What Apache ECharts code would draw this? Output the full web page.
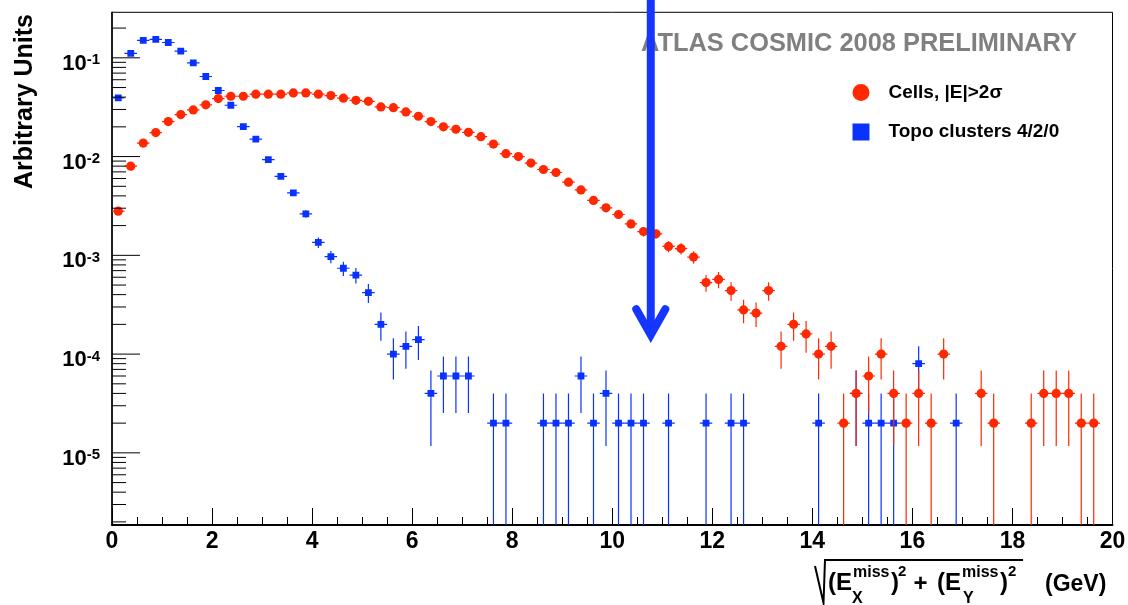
<!DOCTYPE html>
<html><head><meta charset="utf-8">
<script src="https://cdn.jsdelivr.net/npm/echarts@6/dist/echarts.min.js"></script>
<style>html,body{margin:0;padding:0;background:#fff}#c{width:1128px;height:605px}</style>
</head><body><div id="c"></div>
<script>
// ---- data ----
const BIN_CENTERS = [0.125,0.375,0.625,0.875,1.125,1.375,1.625,1.875,2.125,2.375,2.625,2.875,3.125,3.375,3.625,3.875,
  4.125,4.375,4.625,4.875,5.125,5.375,5.625,5.875,6.125,6.375,6.625,6.875,7.125,7.375,7.625,7.875,
  8.125,8.375,8.625,8.875,9.125,9.375,9.625,9.875,10.125,10.375,10.625,10.875,11.125,11.375,11.625,11.875,
  12.125,12.375,12.625,12.875,13.125,13.375,13.625,13.875,14.125,14.375,14.625,14.875,15.125,15.375,15.625,15.875,
  16.125,16.375,16.625,16.875,17.125,17.375,17.625,17.875,18.125,18.375,18.625,18.875,19.125,19.375,19.625,19.875];
const CELLS = [0.0028,0.0080,0.0137,0.0175,0.0226,0.0266,0.0297,0.0334,0.0387,0.0408,0.0408,0.0428,0.0428,0.0428,0.0441,0.0441,
  0.0428,0.0415,0.0390,0.0371,0.0363,0.0318,0.0313,0.0283,0.0256,0.0226,0.0200,0.0189,0.0176,0.0159,0.0134,0.0107,
  0.0100,0.0086,0.0074,0.0069,0.0055,0.0046,0.0036,0.00303,0.00259,0.00208,0.00174,0.00165,0.00123,0.00117,0.00096,0.00053,
  0.00057,0.00044,0.00028,0.00026,0.00044,0.00012,0.00020,0.00016,0.00010,0.00012,0.00002,0.00004,0.00006,0.00010,0.00004,0.00002,
  0.00004,0.00002,0.00010,0,0,0.00004,0.00002,0,0,0.00002,0.00004,0.00004,0.00004,0.00002,0.00002,0];
const TOPO = [0.0393,0.111,0.150,0.154,0.143,0.117,0.0889,0.0647,0.0467,0.0331,0.0201,0.0150,0.0093,0.0063,0.0043,0.00263,
  0.00135,0.00097,0.00074,0.00063,0.00042,0.00020,0.00010,0.00012,0.00014,0.00004,0.00006,0.00006,0.00006,0,0.00002,0.00002,
  0,0,0.00002,0.00002,0.00002,0.00006,0.00002,0.00004,0.00002,0.00002,0.00002,0,0.00002,0,0,0.00002,
  0,0.00002,0.00002,0,0,0,0,0,0.00002,0,0,0.00004,0.00002,0.00002,0.00002,0,
  0.00008,0,0,0.00002,0,0,0,0,0,0,0,0,0,0,0,0];
const SERIES_NAMES = ['Cells, |E|>2σ', 'Topo clusters 4/2/0'];
const ENTRY_WEIGHT = 2e-5;      // weight of one entry (Poisson error unit)
const BIN_HALF_WIDTH = 0.125;
const X_MIN = 0, X_MAX = 20, X_STEP = 2;
const Y_MIN = 1.86e-6, Y_MAX = 0.289;
const Y_MAJOR_TICKS = [1e-5, 1e-4, 1e-3, 1e-2, 1e-1];
const Y_MINOR_TICKS = [2e-6,3e-6,4e-6,5e-6,6e-6,7e-6,8e-6,9e-6,
  2e-5,3e-5,4e-5,5e-5,6e-5,7e-5,8e-5,9e-5, 2e-4,3e-4,4e-4,5e-4,6e-4,7e-4,8e-4,9e-4,
  2e-3,3e-3,4e-3,5e-3,6e-3,7e-3,8e-3,9e-3, 2e-2,3e-2,4e-2,5e-2,6e-2,7e-2,8e-2,9e-2, 2e-1];
const ARROW_X = 10.77, ARROW_TIP = 1.3e-4;
const TITLE = 'ATLAS COSMIC 2008 PRELIMINARY';
const Y_TITLE = 'Arbitrary Units';

// ---- styles ----
const FONT = '"Liberation Sans", Arial, Helvetica, sans-serif';
const RED = '#ff2800', BLUE = '#0a32ff', ARROW_BLUE = '#1536ff';

const chart = echarts.init(document.getElementById('c'), null, {renderer: 'canvas'});

function histSeries(name, values, color, shape) {
  const data = [];
  values.forEach((v, i) => { if (v > 0) data.push([BIN_CENTERS[i], v]); });
  return {
    type: 'custom', name, data, encode: {x: 0, y: 1}, clip: true,
    itemStyle: {color},
    renderItem(params, api) {
      const x = api.value(0), v = api.value(1);
      const err = Math.sqrt(v * ENTRY_WEIGHT);
      const cs = params.coordSys;
      const c = api.coord([x, v]);
      const l = api.coord([x - BIN_HALF_WIDTH, v]);
      const r = api.coord([x + BIN_HALF_WIDTH, v]);
      const top = api.coord([x, v + err])[1];
      const low = (v - err) > Y_MIN * 1.0001 ? api.coord([x, v - err])[1] : cs.y + cs.height;
      const ls = {stroke: color, lineWidth: 1.2};
      const children = [
        {type: 'line', shape: {x1: l[0], y1: c[1], x2: r[0], y2: c[1]}, style: ls},
        {type: 'line', shape: {x1: c[0], y1: top, x2: c[0], y2: low}, style: ls}
      ];
      if (shape === 'circle') children.push({type: 'circle', shape: {cx: c[0], cy: c[1], r: 4.6}, style: {fill: color}});
      else children.push({type: 'rect', shape: {x: c[0] - 3.4, y: c[1] - 3.4, width: 6.8, height: 6.8}, style: {fill: color}});
      return {type: 'group', children};
    }
  };
}

const tickData = Y_MAJOR_TICKS.map(v => [X_MIN, v, 1]).concat(Y_MINOR_TICKS.map(v => [X_MIN, v, 0]));

const supY = (t, x, y, size) => ({type: 'text', x, y, z: 1, style: {text: t, font: `bold ${size}px ${FONT}`, fill: '#000', verticalAlign: 'middle', textAlign: 'left'}});

const option = {
  backgroundColor: '#fff',
  animation: false,
  grid: {left: 112, right: 15.5, top: 12.3, bottom: 80, show: true, borderColor: '#000', borderWidth: 1, containLabel: false, outerBoundsMode: 'none'},
  legend: {
    orient: 'vertical', left: 847.5, top: 77.5, itemWidth: 17, itemHeight: 17, itemGap: 19.5, selectedMode: false,
    data: [{name: SERIES_NAMES[0], icon: 'circle', itemStyle: {color: RED}}, {name: SERIES_NAMES[1], icon: 'rect', itemStyle: {color: BLUE}}],
    textStyle: {fontFamily: FONT, fontSize: 19, fontWeight: 'bold', color: '#000', lineHeight: 20, padding: [0, 0, 0, 14]}
  },
  xAxis: {
    type: 'value', min: X_MIN, max: X_MAX, interval: X_STEP,
    axisLine: {show: true, onZero: false, lineStyle: {color: '#000', width: 2}},
    axisTick: {show: true, inside: true, length: 17, lineStyle: {color: '#000', width: 1}},
    minorTick: {show: true, splitNumber: 4, length: 8, lineStyle: {color: '#000', width: 1}},
    splitLine: {show: false}, minorSplitLine: {show: false},
    axisLabel: {fontFamily: FONT, fontSize: 23, fontWeight: 'bold', color: '#000', margin: 5}
  },
  yAxis: {
    type: 'log', logBase: 10, min: Y_MIN, max: Y_MAX,
    axisLine: {show: true, lineStyle: {color: '#000', width: 1.5}},
    axisTick: {show: false}, splitLine: {show: false}, minorTick: {show: false},
    axisLabel: {
      margin: 12, showMinLabel: false, showMaxLabel: false, padding: [12, 0, 0, 0],
      formatter: v => { const e = Math.log10(v), r = Math.round(e); return Math.abs(e - r) < 1e-6 ? `{b|10}{s|${r}}` : ''; },
      rich: {
        b: {fontFamily: FONT, fontSize: 22, fontWeight: 'bold', color: '#000', lineHeight: 22, verticalAlign: 'bottom'},
        s: {fontFamily: FONT, fontSize: 15, fontWeight: 'bold', color: '#000', lineHeight: 15, verticalAlign: 'top'}
      }
    }
  },
  graphic: [
    {type: 'text', x: 641, y: 44, z: 1, style: {text: TITLE, font: `bold 25.4px ${FONT}`, fill: '#808080', verticalAlign: 'middle', textAlign: 'left'}},
    {type: 'text', x: 24.7, y: 101.5, rotation: Math.PI / 2, z: 1, style: {text: Y_TITLE, font: `bold 25px ${FONT}`, fill: '#000', verticalAlign: 'middle', textAlign: 'center'}},
    {type: 'polyline', z: 1, shape: {points: [[815, 566], [823.5, 603], [825, 560], [1023, 560]]}, style: {stroke: '#000', lineWidth: 2, fill: null}},
    supY('(E', 828, 583, 24), supY('miss', 853, 572.8, 16), supY('X', 852, 599, 16),
    supY(')', 891, 583, 24), supY('2', 898, 571.7, 15),
    supY('+', 913.5, 584, 24),
    supY('(E', 937, 583, 24), supY('miss', 962, 572.8, 16), supY('Y', 963, 599, 16),
    supY(')', 1000, 583, 24), supY('2', 1008, 571.7, 15),
    supY('(GeV)', 1045, 585, 23)
  ],
  series: [
    {
      type: 'custom', silent: true, data: tickData, encode: {x: 0, y: 1}, clip: false, z: 4,
      renderItem(params, api) {
        const p = api.coord([api.value(0), api.value(1)]);
        const len = api.value(2) ? 28 : 14;
        return {type: 'line', shape: {x1: p[0], y1: p[1], x2: p[0] + len, y2: p[1]}, style: {stroke: '#000', lineWidth: 1}};
      }
    },
    histSeries(SERIES_NAMES[1], TOPO, BLUE, 'rect'),
    histSeries(SERIES_NAMES[0], CELLS, RED, 'circle'),
    {
      type: 'custom', silent: true, data: [[ARROW_X, ARROW_TIP]], encode: {x: 0, y: 1}, clip: false, z: 5,
      renderItem(params, api) {
        const c = api.coord([api.value(0), api.value(1)]);
        const vy = c[1] - 8;
        return {type: 'group', children: [
          {type: 'line', shape: {x1: c[0], y1: 0, x2: c[0], y2: vy}, style: {stroke: ARROW_BLUE, lineWidth: 8}},
          {type: 'polyline', shape: {points: [[c[0] - 14.5, vy - 25.6], [c[0], vy], [c[0] + 14.5, vy - 25.6]]},
           style: {stroke: ARROW_BLUE, lineWidth: 8, lineCap: 'round', lineJoin: 'miter', miterLimit: 10, fill: null}}
        ]};
      }
    }
  ]
};
chart.setOption(option);
</script></body></html>
